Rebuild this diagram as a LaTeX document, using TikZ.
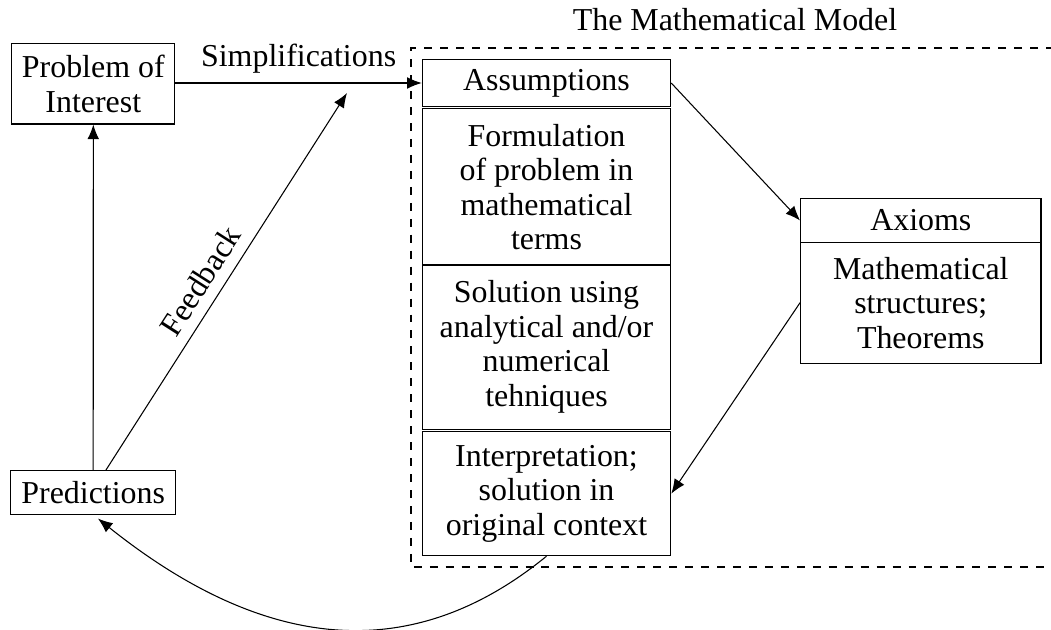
\documentclass[tikz,border=0pt]{standalone}
\usepackage{fontspec}
\setmainfont{Liberation Serif}
\usetikzlibrary{arrows.meta}
\begin{document}
\begin{tikzpicture}[x=0.376pt,y=-0.376pt,
  box/.style={draw,rectangle,inner sep=0pt,align=center,font=\fontsize{12}{13}\selectfont},
  lbl/.style={inner sep=0pt,font=\fontsize{12}{13}\selectfont},
  arr/.style={-{Latex[length=5.5pt,width=4.4pt]}}]
\useasboundingbox (0,0) rectangle (1051,630);
% dashed frame of the model
\draw[dashed] (1070,48) -- (411,48) -- (411,567) -- (1070,567);
\node[lbl] (title) at (735,20) {The Mathematical Model};
% left boxes
\node[box,minimum width=61.4pt,minimum height=30.3pt] (prob) at (93.3,83.7) {Problem of\\Interest};
\node[box,minimum width=62pt,minimum height=16.2pt] (pred) at (93.2,492.5) {Predictions};
% stack
\node[box,minimum width=93.4pt,minimum height=17.8pt] (ass) at (546.5,83) {Assumptions};
\node[box,minimum width=93.4pt,minimum height=58.7pt] (form) at (546.5,187) {Formulation\\of problem in\\mathematical\\terms};
\node[box,minimum width=93.4pt,minimum height=61.7pt] (sol) at (546.5,347) {Solution using\\analytical and/or\\numerical\\tehniques};
\node[box,minimum width=93.4pt,minimum height=46.6pt] (interp) at (546.5,493.7) {Interpretation;\\solution in\\original context};
% axioms
\node[box,minimum width=90.4pt,minimum height=16.2pt] (ax) at (920.8,220.5) {Axioms};
\node[box,minimum width=90.4pt,minimum height=45.6pt] (math) at (920.8,302.7) {Mathematical\\structures;\\Theorems};
% connectors
\draw[arr] (prob.east |- ass.west) -- node[lbl,above=3.5pt] (simp) {Simplifications} (ass.west);
\draw[arr] (pred.north) -- (prob.south);
\coordinate (fb) at (347,93);
\draw[arr] ([xshift=4.7pt]pred.north) -- node[lbl,sloped,above=4pt,pos=0.47] (feed) {Feedback} (fb);
\draw[arr] (ass.east) -- (ax.west);
\draw[arr] (math.west) -- (interp.east);
\draw[arr] (interp.south) .. controls (400,676) and (250,640) .. ([xshift=1.8pt,yshift=-1.5pt]pred.south);
\end{tikzpicture}
\end{document}
